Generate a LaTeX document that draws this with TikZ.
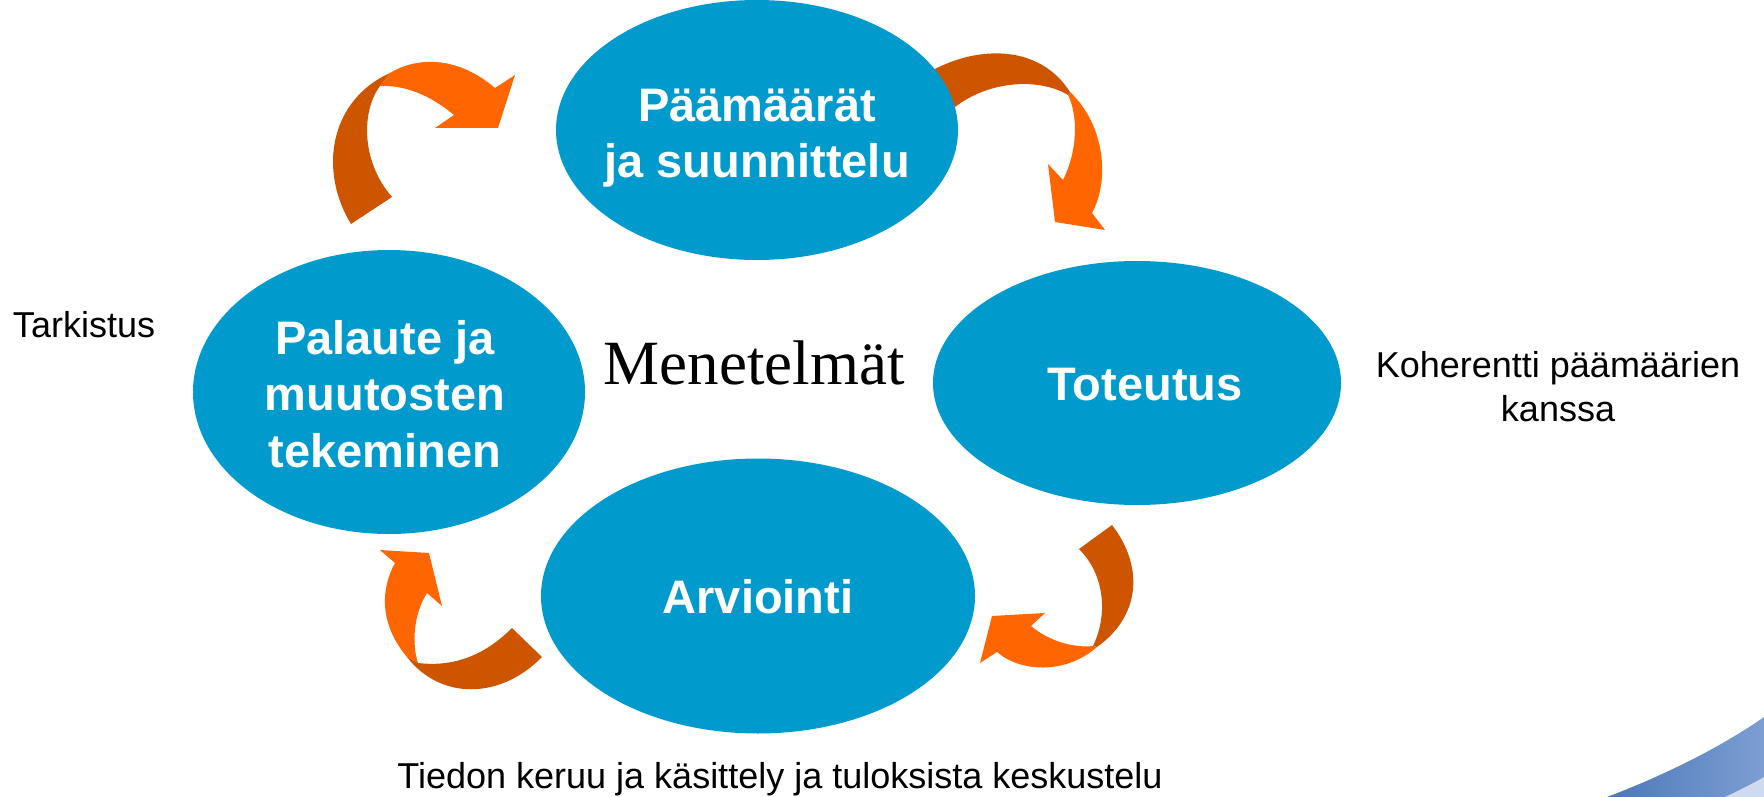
\documentclass[tikz,border=0pt]{standalone}
\usepackage{fontspec}
\setmainfont{Liberation Sans}
\newfontfamily\menfont{Liberation Serif}
\usetikzlibrary{shapes.geometric}
\definecolor{ellblue}{RGB}{0,155,204}
\definecolor{darkor}{RGB}{205,85,0}
\definecolor{brightor}{RGB}{255,102,0}
\definecolor{swoopA}{RGB}{75,120,185}
\definecolor{swoopB}{RGB}{125,158,210}
\definecolor{swoopC}{RGB}{205,218,240}
\tikzset{
  bubble/.style={ellipse, fill=ellblue, draw=none, inner sep=0pt},
  bubtext/.style={text=white, font=\bfseries\fontsize{47}{56.5}\selectfont, align=center, inner sep=0pt},
  plain/.style={text=black, font=\fontsize{36}{43.3}\selectfont, align=center, inner sep=0pt},
  darkpart/.style={fill=darkor, draw=none},
  brightpart/.style={fill=brightor, draw=none},
}
\begin{document}
\begin{tikzpicture}[x=1pt,y=-1pt]
\useasboundingbox (0,0) rectangle (1764,797);
\fill[white] (0,0) rectangle (1764,797);

% blue swoosh bottom right
\shade[left color=swoopA, right color=swoopB, draw=none]
  (1607,797) .. controls (1660,777) and (1720,748) .. (1764,717) -- (1764,797) -- cycle;
\fill[swoopC] (1725,797) .. controls (1740,790) and (1752,784) .. (1764,777) -- (1764,797) -- cycle;

% arrow 1 (top-left)
\fill[darkpart] (351,224) .. controls (318,170) and (330,100) .. (390,73)
  -- (380,86) .. controls (362,110) and (360,160) .. (392,197) -- cycle;
\fill[brightpart] (390,73) .. controls (420,55) and (460,58) .. (495,88)
  -- (515,75) -- (498,128) -- (435,128) -- (454,115)
  .. controls (430,95) and (405,85) .. (380,86) -- cycle;

% arrow 2 (top-right)
\fill[darkpart] (933,70) .. controls (980,45) and (1040,45) .. (1070,92)
  -- (1068,95) .. controls (1040,78) and (990,80) .. (955,107) -- cycle;
\fill[brightpart] (1070,92) .. controls (1105,125) and (1110,180) .. (1092,213)
  -- (1105,230) -- (1055,222) -- (1048,164) -- (1063,180)
  .. controls (1078,150) and (1078,115) .. (1068,95) -- cycle;

% arrow 3 (bottom-right)
\fill[darkpart] (1112,525) .. controls (1143,565) and (1142,615) .. (1097,647)
  -- (1093,646) .. controls (1108,615) and (1105,575) .. (1079,549) -- cycle;
\fill[brightpart] (1097,647) .. controls (1065,675) and (1020,672) .. (997,652)
  -- (980,663) -- (992,616) -- (1045,613) -- (1031,626)
  .. controls (1050,642) and (1075,648) .. (1093,646) -- cycle;

% arrow 4 (bottom-left)
\fill[brightpart] (407,657) .. controls (380,625) and (380,590) .. (395,563)
  -- (380,550) -- (429,553) -- (442,606) -- (427,593)
  .. controls (413,615) and (412,645) .. (418,663) -- cycle;
\fill[darkpart] (542,657) .. controls (500,700) and (440,700) .. (407,657)
  -- (418,663) .. controls (460,668) and (490,650) .. (512,628) -- cycle;

% ellipses
\node[bubble, minimum width=402pt, minimum height=260pt] (goal) at (757,130) {};
\node[bubble, minimum width=408pt, minimum height=244pt] (impl) at (1137,383) {};
\node[bubble, minimum width=434pt, minimum height=275pt] (eval) at (758,596) {};
\node[bubble, minimum width=392pt, minimum height=284pt] (feed) at (389,392) {};

% ellipse texts (base anchor = baseline of last line)
\node[bubtext, anchor=base] (goalt) at (757,178) {Päämäärät\\ja suunnittelu};
\node[bubtext, anchor=base] (implt) at (1145,400) {Toteutus};
\node[bubtext, anchor=base] (evalt) at (758,613) {Arviointi};
\node[bubtext, anchor=base] (feedt) at (385,467) {Palaute ja\\muutosten\\tekeminen};

% other texts
\node[anchor=base, inner sep=0pt, font=\menfont\fontsize{63}{75}\selectfont] (meth) at (754,384) {Menetelmät};
\node[plain, anchor=base] (check) at (84,337) {Tarkistus};
\node[plain, anchor=base] (coh) at (1558,421) {Koherentti päämäärien\\kanssa};
\node[plain, anchor=base] (data) at (780,788) {Tiedon keruu ja käsittely ja tuloksista keskustelu};
\end{tikzpicture}
\end{document}
